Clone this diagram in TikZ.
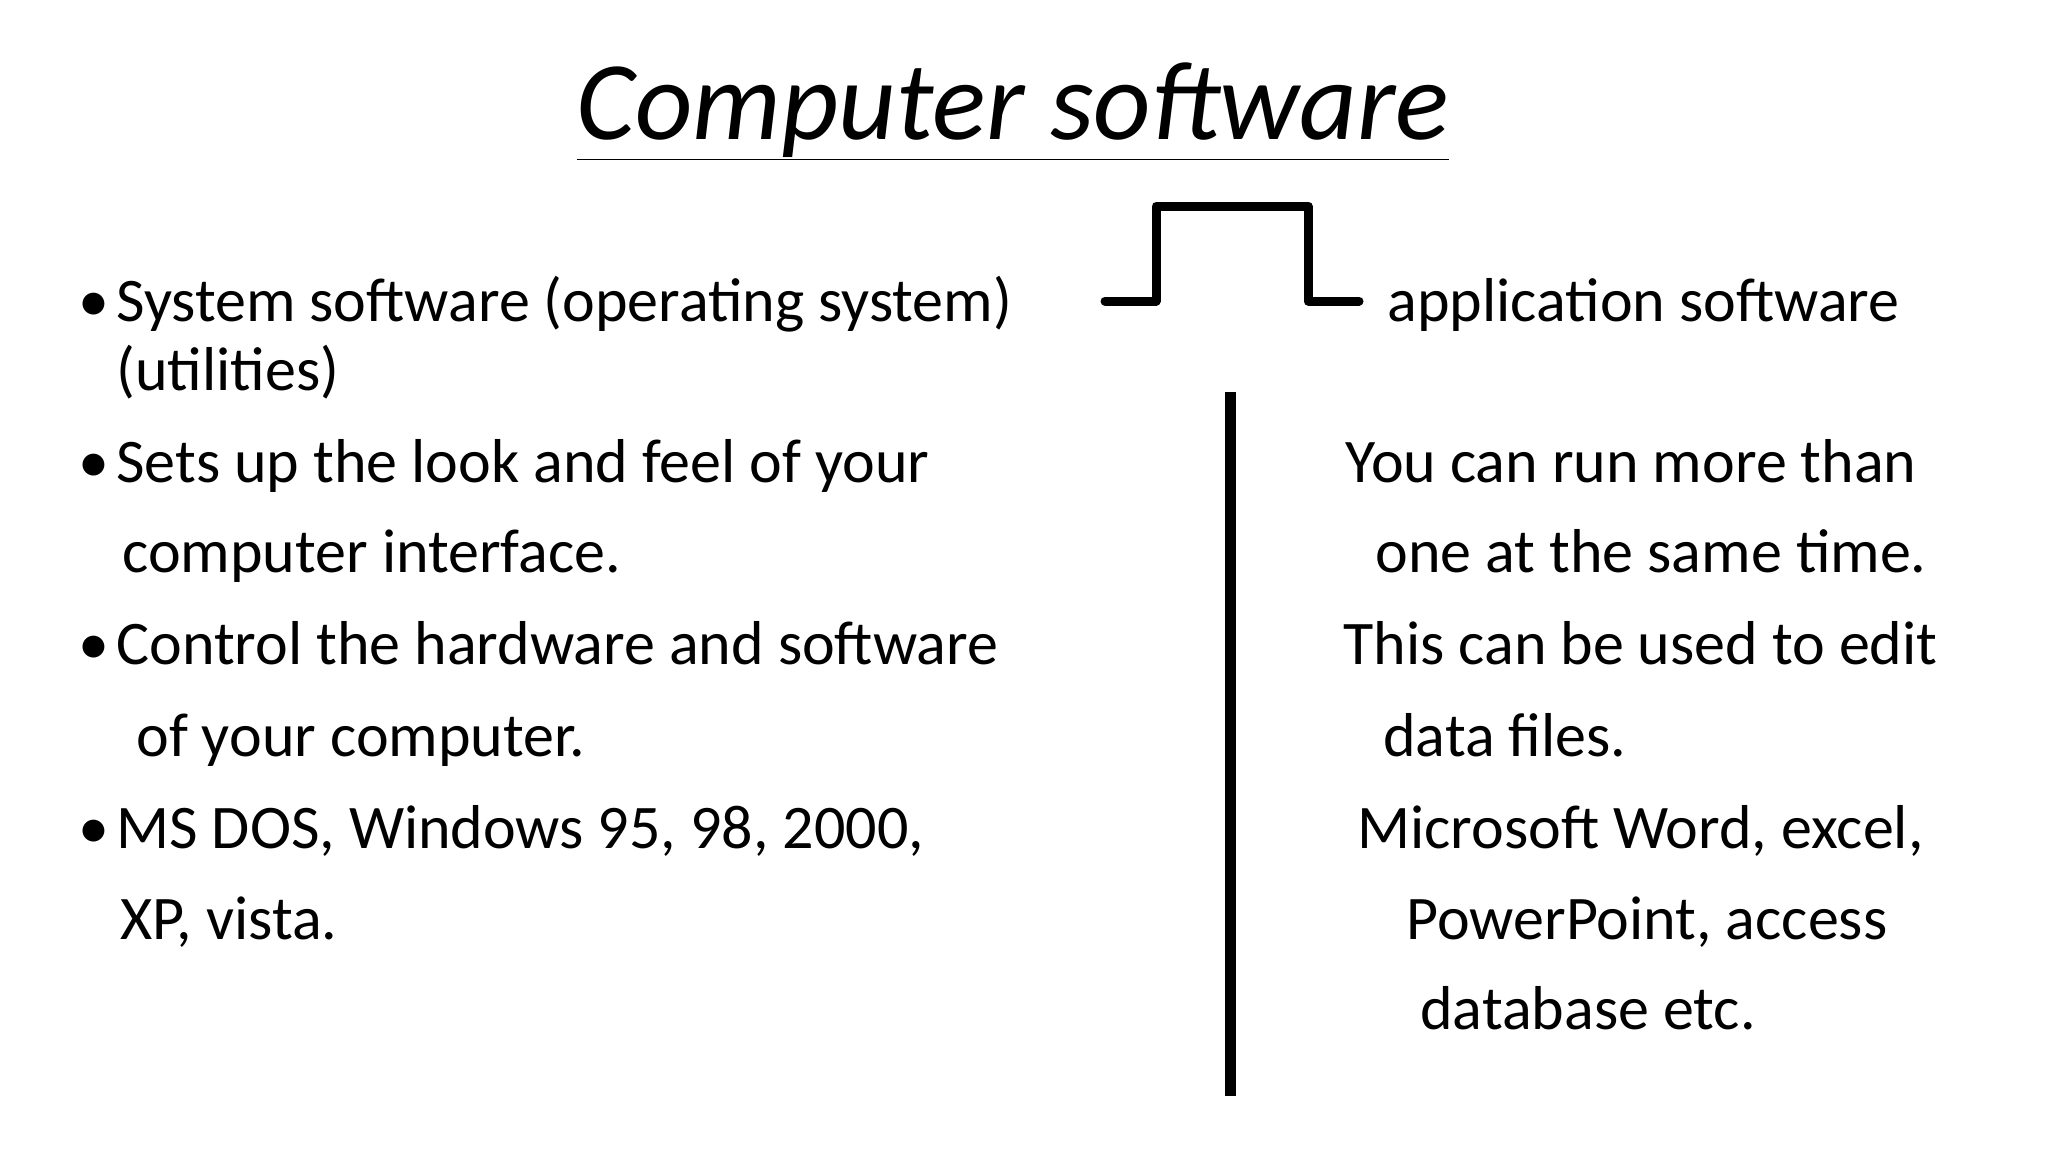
\documentclass[tikz,border=0pt]{standalone}
\usepackage{fontspec}
\setmainfont{Carlito}
\begin{document}
\begin{tikzpicture}[x=0.5pt,y=-0.5pt,
  txt/.style={anchor=base west,inner sep=0pt,font=\fontsize{31}{36}\selectfont},
  bul/.style={anchor=base west,inner sep=0pt,font=\fontsize{31}{36}\selectfont}]
\useasboundingbox (0,0) rectangle (2048,1152);
\fill[white] (0,0) rectangle (2048,1152);
\node[anchor=base,inner sep=0pt,font=\fontsize{56}{60}\selectfont\itshape] (title) at (1013,139) {\underline{Computer software}};
\foreach \y in {321,482,664,848} \node[bul] at (78,\y) {•};
\node[txt] (l1) at (116,321) {System software (operating system)};
\node[txt] (l2) at (116,390) {(utilities)};
\node[txt] (l3) at (116,482) {Sets up the look and feel of your};
\node[txt] (l4) at (122,572) {computer interface.};
\node[txt] (l5) at (116,664) {Control the hardware and software};
\node[txt] (l6) at (136,756) {of your computer.};
\node[txt] (l7) at (116,848) {MS DOS, Windows 95, 98, 2000,};
\node[txt] (l8) at (120,939) {XP, vista.};
\node[txt] (r0) at (1387,321) {application software};
\node[txt] (r1) at (1345,482) {You can run more than};
\node[txt] (r2) at (1375,572) {one at the same time.};
\node[txt] (r3) at (1343,664) {This can be used to edit};
\node[txt] (r4) at (1383,756) {data files.};
\node[txt] (r5) at (1357,848) {Microsoft Word, excel,};
\node[txt] (r6) at (1406,939) {PowerPoint, access};
\node[txt] (r7) at (1420,1029) {database etc.};
\coordinate (b1) at (1105,301); \coordinate (b2) at (1156,301);
\coordinate (b3) at (1156,206); \coordinate (b4) at (1308,206);
\coordinate (b5) at (1308,301); \coordinate (b6) at (1359,301);
\draw[line width=4.5pt,line cap=round,line join=round] (b1)--(b2)--(b3)--(b4)--(b5)--(b6);
\coordinate (v1) at (1230,392); \coordinate (v2) at (1230,1096);
\draw[line width=5.5pt] (v1)--(v2);
\end{tikzpicture}
\end{document}
